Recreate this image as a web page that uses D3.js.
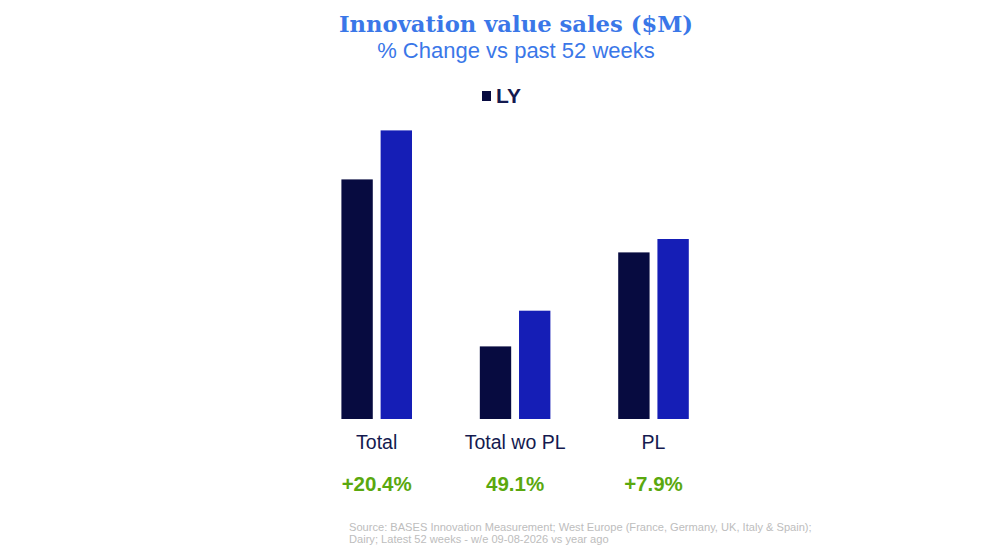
<!DOCTYPE html>
<html>
<head>
<meta charset="utf-8">
<script src="https://cdn.jsdelivr.net/npm/d3@7"></script>
<style>
  body { margin: 0; background: #fff; }
  svg { display: block; }
</style>
</head>
<body>
<div class="chart"></div>
<script>
'use strict';

// Data
const categories = ['Total', 'Total wo PL', 'PL'];
const series = ['LY', 'TY'];
const lyValues = [239.6, 72.6, 166.6];
const tyValues = [288.6, 108.3, 180.0];
const changeLabels = ['+20.4%', '49.1%', '+7.9%'];
const sourceLines = [
  'Source: BASES Innovation Measurement; West Europe (France, Germany, UK, Italy & Spain);',
  'Dairy; Latest 52 weeks - w/e 09-08-2026 vs year ago'
];

// Initialize
const w = 1000;
const h = 553;
const baseline = 419;
const colors = { LY: '#070b40', TY: '#151eb6' };
const navy = '#141a4f';
const sans = '"Liberation Sans", Arial, sans-serif';

const svg = d3.select('.chart')
  .append('svg')
  .attr('width', w)
  .attr('height', h);

// Titles
svg.append('text')
  .attr('x', 516)
  .attr('y', 32)
  .attr('text-anchor', 'middle')
  .style('font-family', '"DejaVu Serif", Georgia, serif')
  .style('font-weight', 'bold')
  .style('font-size', '22.7px')
  .style('fill', '#3a77e8')
  .text('Innovation value sales ($M)');

svg.append('text')
  .attr('x', 516)
  .attr('y', 58)
  .attr('text-anchor', 'middle')
  .style('font-family', sans)
  .style('font-size', '22px')
  .style('fill', '#3a77e8')
  .text('% Change vs past 52 weeks');

// Legend (only LY is visible)
const legend = svg.append('g').attr('transform', 'translate(482, 91)');
legend.append('rect')
  .attr('width', 9)
  .attr('height', 10)
  .style('fill', colors.LY);
legend.append('text')
  .attr('x', 14)
  .attr('y', 11.7)
  .style('font-family', sans)
  .style('font-weight', 'bold')
  .style('font-size', '21px')
  .style('fill', navy)
  .text('LY');

// Scales
const x0 = d3.scaleBand()
  .domain(categories)
  .range([307.5, 722.7])
  .paddingInner(0.49)
  .paddingOuter(0.245);

const x1 = d3.scaleBand()
  .domain(series)
  .range([0, x0.bandwidth()])
  .paddingInner(0.2);

const y = d3.scaleLinear()
  .domain([0, 300])
  .range([baseline, baseline - 300]);

const rows = categories.map((c, i) => ({ cat: c, LY: lyValues[i], TY: tyValues[i], change: changeLabels[i] }));

// Bars
const groups = svg.selectAll('g.group')
  .data(rows)
  .enter()
  .append('g')
  .attr('class', 'group')
  .attr('transform', d => `translate(${x0(d.cat)}, 0)`);

groups.selectAll('rect')
  .data(d => series.map(s => ({ key: s, value: d[s] })))
  .enter()
  .append('rect')
  .attr('x', d => x1(d.key))
  .attr('y', d => y(d.value))
  .attr('width', x1.bandwidth())
  .attr('height', d => y(0) - y(d.value))
  .style('fill', d => colors[d.key]);

// Category labels
svg.selectAll('text.cat')
  .data(rows)
  .enter()
  .append('text')
  .attr('class', 'cat')
  .attr('x', d => x0(d.cat) + x0.bandwidth() / 2)
  .attr('y', 449)
  .attr('text-anchor', 'middle')
  .style('font-family', sans)
  .style('font-size', '19.5px')
  .style('fill', navy)
  .text(d => d.cat);

// Change labels
svg.selectAll('text.change')
  .data(rows)
  .enter()
  .append('text')
  .attr('class', 'change')
  .attr('x', d => x0(d.cat) + x0.bandwidth() / 2)
  .attr('y', 490.5)
  .attr('text-anchor', 'middle')
  .style('font-family', sans)
  .style('font-weight', 'bold')
  .style('font-size', '20.5px')
  .style('fill', '#5aa80e')
  .text(d => d.change);

// Source
svg.append('text')
  .attr('x', 349)
  .attr('y', 531)
  .style('font-family', sans)
  .style('font-size', '11.1px')
  .style('fill', '#bdbdbd')
  .selectAll('tspan')
  .data(sourceLines)
  .enter()
  .append('tspan')
  .attr('x', 349)
  .attr('dy', (d, i) => i === 0 ? 0 : 12)
  .text(d => d);
</script>
</body>
</html>
